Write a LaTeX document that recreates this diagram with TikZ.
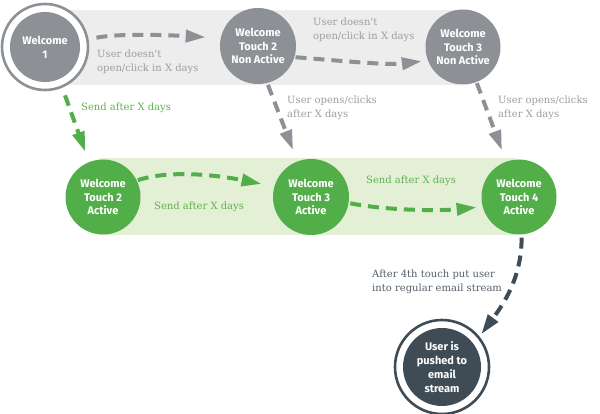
\documentclass[tikz,border=0pt]{standalone}
\usepackage{fontspec}
\setmainfont{Fira Sans}
\newfontfamily\slabfont{DejaVu Serif}
\usetikzlibrary{arrows.meta}
\definecolor{cgray}{HTML}{8D9196}
\definecolor{cgreen}{HTML}{52AE48}
\definecolor{cdark}{HTML}{3F4C56}
\definecolor{bandgray}{HTML}{EDEDED}
\definecolor{bandgreen}{HTML}{E4F0D6}
\definecolor{tgray}{HTML}{9A9EA3}
\definecolor{tgreen}{HTML}{62B152}
\definecolor{tdark}{HTML}{56606B}
\begin{document}
\begin{tikzpicture}[x=1pt,y=-1pt,
  circ/.style={circle, inner sep=0pt, minimum size=#1, text=white,
    font=\bfseries\fontsize{11}{13.8}\selectfont, align=center},
  ring/.style={circle, inner sep=0pt, minimum size=#1, line width=2.6pt},
  lbl/.style={font=\slabfont\fontsize{10}{14}\selectfont, align=left, inner sep=0pt},
  flow/.style={line width=4pt, dash pattern=on 11pt off 7pt,
    -{Triangle[length=20pt,width=12pt]}},
]
\useasboundingbox[fill=white] (0,0) rectangle (600,414);
% bands
\fill[bandgray] (45,10) rectangle (458,85);
\fill[bandgreen] (100,158) rectangle (515,235);
% nodes
\node[ring=86pt, draw=cgray, fill=white] (w1ring) at (45,47) {};
\node[circ=70pt, fill=cgray] (w1) at (45,47) {Welcome\\1};
\node[circ=76pt, fill=cgray] (t2n) at (258,46) {Welcome\\Touch 2\\Non Active};
\node[circ=75pt, fill=cgray] (t3n) at (463,47) {Welcome\\Touch 3\\Non Active};
\node[circ=75pt, fill=cgreen] (t2a) at (103,197) {Welcome\\Touch 2\\Active};
\node[circ=76pt, fill=cgreen] (t3a) at (311,197) {Welcome\\Touch 3\\Active};
\node[circ=75pt, fill=cgreen] (t4a) at (519,197) {Welcome\\Touch 4\\Active};
\node[ring=94pt, draw=cdark, fill=white] (es) at (442,367) {};
\node[circ=78pt, fill=cdark] (esin) at (442,367) {User is\\pushed to\\email\\stream};
% connectors
\draw[flow, cgray, shorten <=8pt, shorten >=15pt]
  (w1ring.10) .. controls +(35,-7) and +(-35,-2) .. (t2n.168);
\draw[flow, cgray, shorten <=1pt, shorten >=6pt]
  (t2n.-17) .. controls +(40,3) and +(-40,5) .. (t3n.-159);
\draw[flow, cgray, shorten <=2pt, shorten >=12pt] (t2n.-76) -- (t3a.111);
\draw[flow, cgray, shorten <=1pt, shorten >=12pt] (t3n.-69) -- (t4a.110);
\draw[flow, cgreen, shorten <=8pt, shorten >=11pt] (w1ring.-67) -- (t2a.112);
\draw[flow, cgreen, shorten <=1pt, shorten >=13pt]
  (t2a.26) .. controls +(40,-13) and +(-40,-8) .. (t3a.164);
\draw[flow, cgreen, shorten <=1.5pt, shorten >=6pt]
  (t3a.-9) .. controls +(40,8) and +(-40,4) .. (t4a.-165);
\draw[flow, cdark, shorten <=3pt, shorten >=3pt]
  (t4a.-86) .. controls +(0,45) and +(22,-30) .. (es.39);
% labels
\node[lbl, text=tgray, anchor=north west] (l1) at (97,50) {User doesn't\\open/click in X days};
\node[lbl, text=tgray, anchor=north west] (l2) at (313,18) {User doesn't\\open/click in X days};
\node[lbl, text=tgray, anchor=north west] (l3) at (287,96) {User opens/clicks\\after X days};
\node[lbl, text=tgray, anchor=north west] (l4) at (498,96) {User opens/clicks\\after X days};
\node[lbl, text=tgreen, anchor=west] (l5) at (81,108) {Send after X days};
\node[lbl, text=tgreen, anchor=west] (l6) at (154,207) {Send after X days};
\node[lbl, text=tgreen, anchor=west] (l7) at (366,181) {Send after X days};
\node[lbl, text=tdark, anchor=north west] (l8) at (372,270) {After 4th touch put user\\into regular email stream};
\end{tikzpicture}
\end{document}
